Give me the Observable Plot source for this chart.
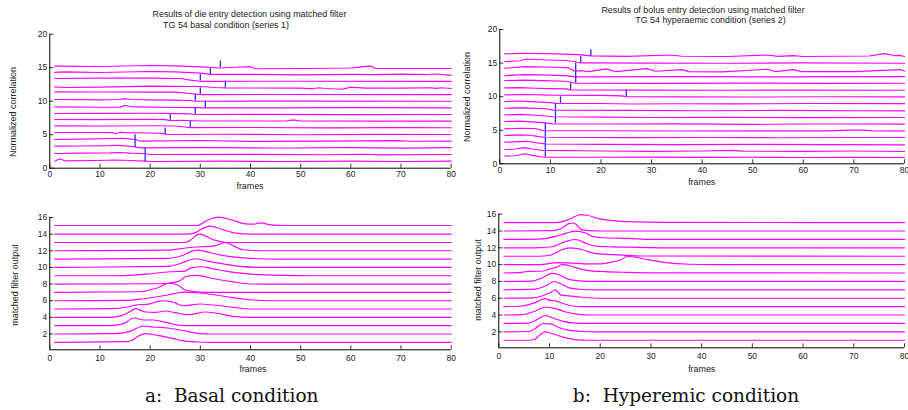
<!DOCTYPE html>
<html><head><meta charset="utf-8">
<script src="https://cdn.jsdelivr.net/npm/d3@7"></script>
<script src="https://cdn.jsdelivr.net/npm/@observablehq/plot@0.6"></script>
<style>
html,body{margin:0;padding:0;background:#fff;}
#root{position:relative;width:908px;height:410px;overflow:hidden;font-family:"Liberation Sans",Arial,sans-serif;color:#222;}
.t{position:absolute;white-space:pre;font-size:8.9px;line-height:1;transform:translate(-50%,-50%);}
.yl{position:absolute;white-space:nowrap;font-size:9px;line-height:1;transform:translate(-50%,-50%) rotate(-90deg);}
.cap{position:absolute;white-space:pre;font-family:"DejaVu Serif",serif;font-size:18.5px;line-height:1;transform:translate(-50%,-50%);color:#111;}
.p{position:absolute;}
</style></head><body><div id="root"></div>
<script>
// ---------- data ----------
const xTicks = [0, 10, 20, 30, 40, 50, 60, 70, 80];
const yTicksCorr = [0, 5, 10, 15, 20];
const yTicksFilt = [2, 4, 6, 8, 10, 12, 14, 16];

// detection frames (trace k spans k..k+1)
const basalDetect = [19, 19, 17, 17, 23, 28, 24, 29, 31, 29, 30, 35, 30, 32, 34];
const hyperDetect = [9, 9, 9, 9, 9, 11, 11, 11, 12, 25, 14, 15, 15, 15, 16, 18];

// normalized correlation traces, basal (trace 1 .. 15), [frame, value]
const basalCorr = [
  [[1,1.05],[2,1.4],[3,1.1],[9,1.15],[13,1.22],[16,1.15],[19,1.05],[20,1.0],[35,1.05],[45,1.0],[60,1.05],[70,1.0],[80,1.05]],
  [[1,2.19],[6,2.25],[12,2.28],[14,2.35],[16,2.25],[19,2.15],[20,2.04],[40,2.07],[55,2.0],[63,2.08],[65,2.0],[80,2.04]],
  [[1,3.29],[6,3.32],[12,3.38],[13.5,3.42],[15,3.33],[17,3.2],[18,3.04],[30,3.08],[45,3.02],[60,3.06],[70,3.0],[80,3.06]],
  [[1,4.28],[6,4.33],[12,4.43],[15,4.45],[17,4.28],[18,4.05],[30,4.14],[40,4.0],[55,4.05],[69,4.12],[72,4.02],[80,4.03]],
  [[1,5.33],[10,5.33],[12.5,5.3],[13,5.15],[14,5.36],[15,5.3],[20,5.25],[22.5,5.2],[23.5,5.03],[35,5.07],[50,5.0],[65,5.05],[80,5.03]],
  [[1,6.32],[10,6.3],[20,6.34],[25,6.3],[27,6.15],[28,6.05],[40,6.08],[55,6.02],[70,6.06],[80,6.03]],
  [[1,7.27],[10,7.25],[20,7.3],[23,7.25],[24,7.08],[26,7.15],[30,7.05],[40,7.05],[47,7.05],[48.5,7.22],[50,7.05],[65,7.02],[80,7.02]],
  [[1,8.16],[10,8.18],[20,8.2],[26,8.15],[28,8.1],[29,8.01],[40,8.03],[60,8.0],[80,8.01]],
  [[1,9.16],[10,9.1],[14,9.12],[15,9.4],[16,9.2],[20,9.12],[25,9.06],[29,9.03],[31,9.01],[45,9.0],[60,9.05],[80,9.01]],
  [[1,10.25],[10,10.2],[14,10.25],[15,10.38],[16,10.25],[20,10.2],[25,10.15],[28,10.1],[29,10.0],[50,10.02],[80,10.0]],
  [[1,11.4],[10,11.38],[20,11.35],[25,11.35],[28,11.15],[30,10.98],[45,11.0],[80,10.98]],
  [[1,12.14],[3,12.04],[10,12.09],[20,12.24],[30,12.2],[33,12.04],[35,11.99],[50,11.95],[52.5,11.85],[53.5,12.0],[55,11.9],[57,11.82],[58.5,11.8],[60,12.1],[63,11.95],[70,11.95],[76,12.0],[77,11.92],[78,12.0],[80,11.9]],
  [[1,13.39],[10,13.44],[20,13.44],[26,13.39],[28,13.14],[30,12.97],[50,12.98],[80,12.97]],
  [[1,14.3],[3,14.38],[10,14.28],[20,14.43],[25,14.38],[30,14.18],[32,14.0],[40,14.0],[50,13.94],[60,14.0],[65,13.96],[70,14.03],[75,13.98],[77,14.06],[80,13.86]],
  [[1,15.23],[10,15.18],[20,15.33],[25,15.28],[30,15.13],[34,14.95],[38,15.1],[40,15.15],[41,14.85],[50,14.88],[60,14.95],[63,15.2],[64,15.23],[65,14.88],[80,14.88]]
];

// normalized correlation traces, hyperaemic (trace 1 .. 16)
const hyperCorr = [
  [[1,1.14],[3,1.2],[5,1.5],[6.5,1.25],[8,1.05],[9,1.0],[20,0.98],[30,1.0],[40,0.95],[50,0.97],[60,0.94],[70,0.96],[80,0.94]],
  [[1,2.13],[3,2.2],[5,2.4],[6.5,2.2],[8.5,2.0],[20,1.9],[30,1.85],[40,1.9],[46,2.0],[48,1.88],[60,1.85],[70,1.9],[80,1.83]],
  [[1,3.22],[4,3.3],[5.5,3.35],[7,3.15],[9,2.95],[20,2.9],[35,2.85],[50,2.9],[65,2.85],[80,2.82]],
  [[1,4.21],[4,4.3],[6,4.25],[8,4.0],[9,3.95],[25,3.9],[40,3.92],[55,3.88],[70,3.92],[80,3.91]],
  [[1,5.2],[4,5.3],[7,5.25],[8.5,4.95],[20,4.92],[35,4.88],[50,4.9],[65,4.9],[69,5.02],[72,5.02],[74,4.88],[80,4.91]],
  [[1,6.3],[4,6.35],[7,6.2],[9,6.1],[10.5,5.95],[20,5.92],[35,5.95],[50,5.88],[65,5.92],[80,5.9]],
  [[1,7.29],[4,7.35],[8,7.2],[10.5,7.0],[20,6.95],[30,6.9],[45,6.92],[60,6.88],[80,6.89]],
  [[1,8.28],[5,8.32],[9,8.2],[10.5,8.0],[25,7.95],[40,7.9],[55,7.95],[70,7.9],[80,7.88]],
  [[1,9.27],[4,9.35],[6,9.25],[10,9.1],[11.5,8.98],[20,8.98],[26,8.9],[35,8.95],[47,8.92],[60,8.98],[80,8.97]],
  [[1,10.26],[5,10.32],[10,10.22],[20,10.2],[24,10.12],[25,10.0],[35,9.97],[50,9.95],[65,9.98],[80,9.97]],
  [[1,11.3],[4,11.35],[7,11.25],[10,11.2],[13,11.15],[14,11.0],[30,10.98],[45,10.95],[60,10.98],[80,10.96]],
  [[1,12.4],[5,12.45],[10,12.35],[13,12.3],[15,12.0],[30,11.98],[50,12.02],[65,11.98],[80,12.0]],
  [[1,13.14],[5,13.28],[10,13.2],[13.5,13.1],[15,12.95],[35,12.98],[55,12.95],[80,12.99]],
  [[1,14.23],[5,14.48],[11,14.38],[13.6,14.28],[14.8,13.78],[16,13.88],[17.6,13.73],[21,14.13],[22.9,13.73],[29,14.18],[30.8,13.78],[36,14.03],[37.4,13.73],[44,13.68],[53,14.08],[54.5,13.73],[58,14.03],[59.7,13.73],[70,13.73],[79.2,14.03],[80,13.78]],
  [[1,15.22],[4,15.35],[5,15.6],[8,15.5],[13,15.38],[15,15.2],[16,15.02],[30,15.0],[45,14.98],[60,15.02],[80,14.98]],
  [[1,16.36],[4.4,16.46],[11,16.36],[15.6,16.26],[18,16.07],[25,16.0],[34,16.2],[36,16.02],[45,15.98],[53,16.2],[55,16.0],[58,16.1],[60,15.98],[73,16.05],[76,16.4],[78,16.12],[79,16.15],[80,15.97]]
];

// matched filter output, basal (trace 1 .. 15)
const basalFilt = [
  [[1,1],[15.4,1.08],[16.4,1.24],[17.4,1.64],[19,2.04],[21.4,1.84],[24.7,1.44],[26.4,1.2],[29.4,1.04],[32,1],[80,1]],
  [[1,2],[12.7,2.04],[16,2.32],[18.7,2.96],[20.7,2.84],[23.4,2.72],[26,2.48],[29.4,2.08],[32,2],[80,2]],
  [[1,3],[12,3],[14.7,3.24],[16.7,3.92],[18.7,3.68],[20.7,3.68],[23.4,3.36],[26,3.04],[28,3],[80,3]],
  [[1,4],[12,4],[14.4,4.24],[16,4.7],[17.1,5.04],[19.1,4.64],[21,4.6],[23,4.76],[25,4.56],[27.7,4.32],[31,4.64],[33,4.52],[36.5,4.12],[40,4],[80,4]],
  [[1,5],[12,5.04],[15.4,5.24],[17.4,5.52],[19.4,5.56],[21.7,5.92],[22.7,6.0],[24.4,5.84],[26.7,5.4],[30,5.6],[32,5.52],[36.7,5.2],[40,5],[80,5]],
  [[1,6],[15.4,6.04],[18.7,6.24],[21.4,6.48],[23.7,6.72],[25.7,6.96],[27,7.04],[30,6.92],[32.7,6.72],[36,6.4],[40,6.12],[44,6],[80,6]],
  [[1,7],[18,7.08],[21.4,7.52],[23.7,8.08],[25.4,7.92],[27,7.28],[30,7.04],[33,7],[80,7]],
  [[1,8],[22,8.04],[25.7,8.32],[27,8.88],[29.3,9.04],[32.7,8.64],[36,8.32],[39.3,8.04],[42,8],[80,8]],
  [[1,9],[13.4,9],[19.4,9.2],[24,9.48],[27,9.56],[28,9.92],[30.3,10.08],[32,9.92],[35.3,9.52],[40,9.2],[46.6,9.04],[52,9],[80,9]],
  [[1,10],[23.4,10.12],[26,10.48],[29,11.04],[31.7,10.72],[34,10.48],[38,10.12],[42,10],[80,10]],
  [[1,11],[23.4,11.08],[26.4,11.44],[28.4,11.96],[29.7,12.08],[32,11.76],[35.3,11.36],[39.3,11.12],[45,11],[80,11]],
  [[1,12],[23.4,12.08],[27.4,12.36],[30,12.48],[32.7,12.56],[35,13.0],[36.7,12.56],[38.6,12.12],[42,12],[80,12]],
  [[1,13],[27,13],[28,13.28],[29.8,14.0],[32.7,13.32],[35.3,13],[80,13]],
  [[1,14],[27.4,14],[29.4,14.3],[30,14.52],[32,14.96],[34,14.64],[36.7,14.16],[40,14],[80,14]],
  [[1,15.04],[29.4,15.04],[31.3,15.64],[33.7,16.04],[36,15.76],[39,15.24],[40.6,15.2],[42,15.36],[44,15.12],[47,15.04],[80,15.04]]
];

// matched filter output, hyperaemic (trace 1 .. 15)
const hyperFilt = [
  [[1,1],[5.9,1],[7.1,1.12],[7.9,1.52],[9.1,1.99],[10.5,1.8],[12.5,1.4],[15.1,1.08],[17.8,1],[80,1]],
  [[1,2],[5.9,2.04],[7.2,2.4],[8.7,2.99],[10.2,2.95],[11.8,2.52],[13.8,2.2],[16.4,2.04],[19,2],[80,2]],
  [[1,3],[5.9,3.04],[7.6,3.48],[9.1,3.95],[10.5,3.68],[12.5,3.28],[15.1,3.04],[18,3],[80,3]],
  [[1,4],[4.6,4.04],[7.2,4.48],[9.2,4.95],[11.2,4.76],[13.2,4.36],[15.8,4.08],[18,4],[80,4]],
  [[1,5],[4.6,5.08],[7.2,5.48],[9.1,5.95],[10.2,5.72],[11.2,5.68],[12.5,5.4],[14.5,5.08],[17,5],[80,5]],
  [[1,6],[6.6,6.04],[8.9,6.36],[10.2,6.68],[11.2,6.99],[12.2,6.4],[13.8,6.28],[16.4,6.12],[20,6],[80,6]],
  [[1,7],[7.2,7.08],[9.2,7.48],[11,7.99],[12.5,7.64],[14.1,7.2],[16.4,7.04],[19,7],[80,7]],
  [[1,8],[6.6,8.04],[8.6,8.44],[10.5,8.95],[11.8,8.8],[13.8,8.24],[16.4,8.04],[19,8],[80,8]],
  [[1,9],[4.6,9.08],[5.5,9.18],[6.6,9.2],[8.6,9.24],[10.2,9.52],[11.2,9.64],[12.5,9.99],[14.1,9.84],[15.8,9.52],[17.8,9.28],[21,9.16],[25,9.08],[30,9.02],[80,9]],
  [[1,10],[7.9,10],[11.8,10.24],[13.8,10.2],[17.8,10.08],[19.7,10.08],[22.4,10.32],[24.3,10.64],[25.3,10.99],[27,10.88],[29.6,10.56],[32.9,10.24],[37.5,10.04],[42,10],[80,10]],
  [[1,11],[7.9,11],[9.9,11.08],[11.2,11.4],[12.5,11.8],[14.1,11.99],[16.4,11.8],[18.4,11.4],[20.4,11.24],[23.7,11.16],[28,11.02],[80,11]],
  [[1,12],[7.2,12],[10.5,12.12],[12.5,12.6],[13.5,12.8],[15.1,12.99],[17.4,12.48],[19.1,12.2],[22.4,12.12],[25.7,12.08],[35,12],[80,12]],
  [[1,13],[7.9,13.04],[11.2,13.36],[13.2,13.72],[15.1,13.99],[17.1,13.76],[18.4,13.36],[20.4,13.2],[25.7,13.12],[30,13],[80,13]],
  [[1,14],[10.5,14.04],[12.5,14.36],[13.8,14.88],[14.8,14.95],[15.5,14.64],[16.3,14.16],[17.8,14.04],[20,14],[80,14]],
  [[1,15],[11.2,15],[13.2,15.24],[14.1,15.44],[16.1,15.95],[17.4,15.87],[19.7,15.48],[22.4,15.24],[27,15.08],[32,15.02],[80,15]]
];

// ---------- drawing ----------
const root = document.getElementById("root");

function panel(o) {
  const rows = o.traces.flatMap((pts, k) => pts.map(([f, v]) => ({trace: k + 1, frame: f, value: v})));
  const innerH = o.height - o.mt - o.mb, innerW = o.width - o.ml - o.mr;
  const [y0, y1] = o.yDomain;
  const tickDy = 4 / innerH * (y1 - y0);
  const tickDx = 4 / innerW * 80;
  const marks = [
    Plot.line(rows, {x: "frame", y: "value", z: "trace", stroke: "#ff00ff", strokeWidth: 1.15, curve: o.curve})
  ];
  if (o.detect) {
    marks.push(Plot.ruleX(o.detect.map((d, k) => ({frame: d, lo: k + 1, hi: k + 2})),
      {x: "frame", y1: "lo", y2: "hi", stroke: "#2a2aff", strokeWidth: 1.3}));
  }
  marks.push(
    Plot.ruleX(xTicks, {x: d => d, y1: y0, y2: y0 + tickDy, stroke: "#000", strokeWidth: 0.8}),
    Plot.ruleY(o.yTicks, {y: d => d, x1: 0, x2: tickDx, stroke: "#000", strokeWidth: 0.8}),
    Plot.ruleX([0], {y1: y0, y2: y1, stroke: "#000"}),
    Plot.ruleY([y0], {x1: 0, x2: 80, stroke: "#000"}),
    Plot.axisX(xTicks, {tickSize: 0, tickPadding: o.xPad, label: null, fill: "#222"}),
    Plot.axisY(o.yTicks, {tickSize: 0, tickPadding: 2.6, label: null, fill: "#222"})
  );
  const svg = Plot.plot({
    width: o.width, height: o.height,
    marginTop: o.mt, marginRight: o.mr, marginBottom: o.mb, marginLeft: o.ml,
    x: {domain: [0, 80]}, y: {domain: o.yDomain},
    style: {fontSize: "8.5px", fontFamily: "'Liberation Sans', Arial, sans-serif", background: "transparent", overflow: "visible"},
    marks
  });
  const wrap = document.createElement("div");
  wrap.className = "p";
  wrap.style.left = o.left + "px";
  wrap.style.top = o.top + "px";
  wrap.appendChild(svg);
  root.appendChild(wrap);
}

panel({traces: basalCorr, detect: basalDetect, yDomain: [0, 20], yTicks: yTicksCorr,
  left: 0, top: 0, width: 455, height: 195, mt: 33.7, mr: 4.3, mb: 27.3, ml: 49.3, curve: "linear", xPad: 2.6});
panel({traces: hyperCorr, detect: hyperDetect, yDomain: [0, 20], yTicks: yTicksCorr,
  left: 455, top: 0, width: 453, height: 195, mt: 29, mr: 4, mb: 31.7, ml: 44.3, curve: "linear", xPad: 2.7});
panel({traces: basalFilt, detect: null, yDomain: [0.1, 16], yTicks: yTicksFilt,
  left: 0, top: 195, width: 455, height: 180, mt: 22, mr: 4.3, mb: 25.7, ml: 49.3, curve: "monotone-x", xPad: 4.8});
panel({traces: hyperFilt, detect: null, yDomain: [0.1, 16], yTicks: yTicksFilt,
  left: 455, top: 195, width: 453, height: 180, mt: 18.7, mr: 4, mb: 27.7, ml: 43.3, curve: "monotone-x", xPad: 5.2});

function label(cls, text, x, y) {
  const d = document.createElement("div");
  d.className = cls;
  d.textContent = text;
  d.style.left = x + "px";
  d.style.top = y + "px";
  root.appendChild(d);
}
label("t", "Results of die entry detection using matched filter", 249.5, 14.3);
label("t", "TG 54 basal condition (series 1)", 226, 25);
label("t", "Results of bolus entry detection using matched filter", 703, 10);
label("t", "TG 54 hyperaemic condition (series 2)", 710.5, 20);
label("t", "frames", 250, 185.7);
label("t", "frames", 701.7, 182.3);
label("t", "frames", 253, 369);
label("t", "frames", 701.7, 369);
label("yl", "Normalized correlation", 13.3, 111.7);
label("yl", "Normalized correlation", 466.7, 96.7);
label("yl", "matched filter output", 15, 285);
label("yl", "matched filter output", 477.7, 280);
label("cap", "a:  Basal condition", 231.7, 395.5);
label("cap", "b:  Hyperemic condition", 686, 395.5);
</script></body></html>
